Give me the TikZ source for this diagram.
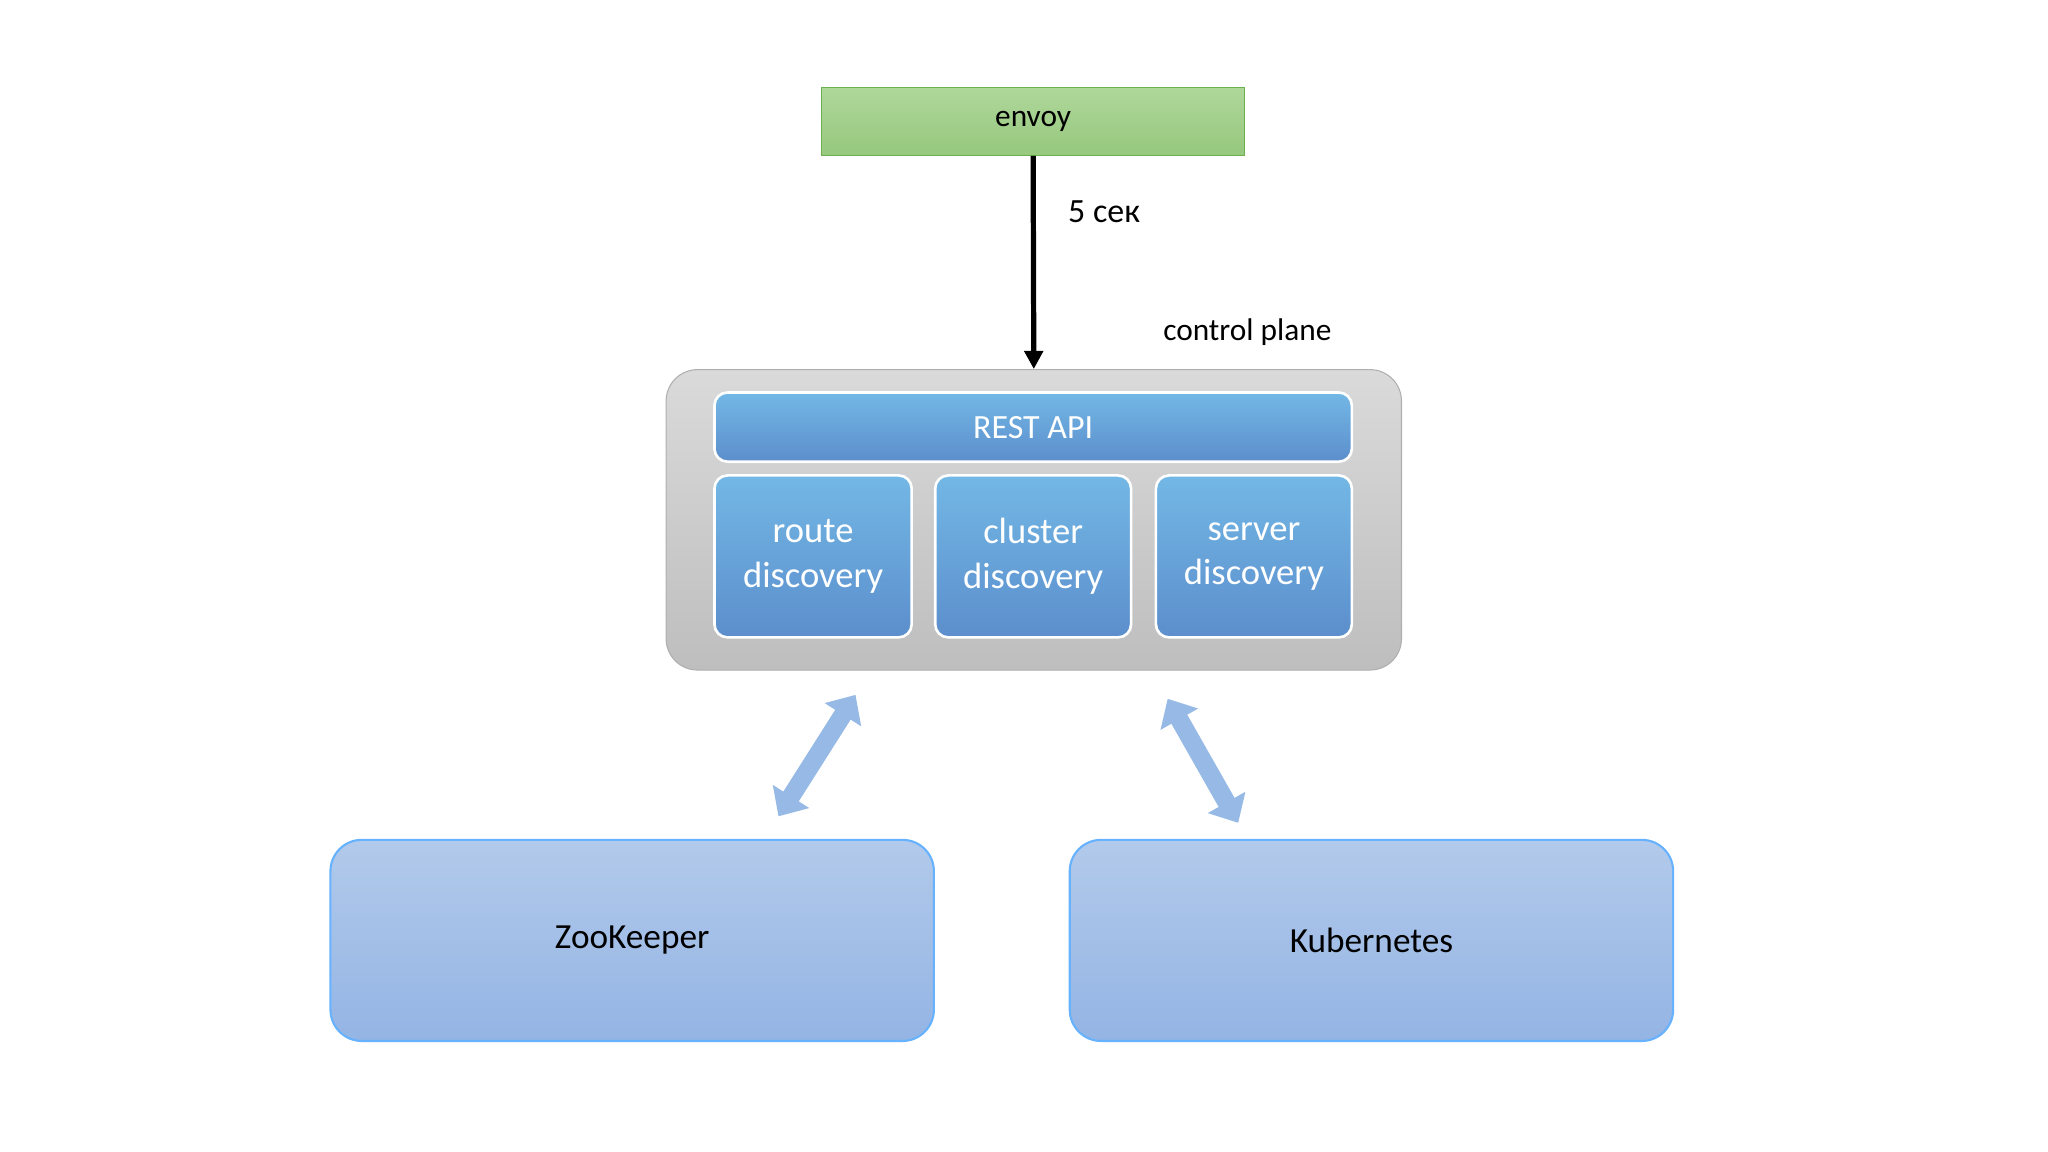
\documentclass[tikz,border=0pt]{standalone}
\usepackage{fontspec}
\setmainfont{Carlito}
\usetikzlibrary{arrows.meta}
\begin{document}
\begin{tikzpicture}[x=0.5pt,y=-0.5pt,
  blu/.style={draw=white,line width=1pt,rounded corners=5pt,top color=blue!40!cyan!50!white!90!black,bottom color=blue!55!cyan!55!white!80!black,text=white,font=\fontsize{14}{17}\selectfont,align=center,inner sep=0},
  ext/.style={draw=blue!50!cyan!60!white,line width=0.8pt,rounded corners=12pt,top color={rgb,255:red,178;green,202;blue,235},bottom color={rgb,255:red,148;green,180;blue,228},font=\fontsize{13.5}{16}\selectfont,inner sep=0},
  fat/.style={line width=7pt,draw={rgb,255:red,150;green,185;blue,230},{Triangle[width=16pt,length=9pt]}-{Triangle[width=16pt,length=9pt]}}]
\useasboundingbox (0,0) rectangle (1568,882);
\node[draw={rgb,255:red,110;green,175;blue,80},top color={rgb,255:red,175;green,215;blue,155},bottom color={rgb,255:red,150;green,200;blue,125},minimum width=162pt,minimum height=26pt,font=\fontsize{12}{14}\selectfont,inner sep=0] (envoy) at (791,93) {envoy};
\node[draw={rgb,255:red,175;green,175;blue,175},rounded corners=12pt,top color={rgb,255:red,218;green,218;blue,218},bottom color={rgb,255:red,190;green,190;blue,190},minimum width=281.5pt,minimum height=115pt,inner sep=0] (cp) at (791.5,398) {};
\node[font=\fontsize{12}{14}\selectfont,anchor=south] (cpl) at (955,272) {control plane};
\draw[line width=2pt,-{Triangle[width=7pt,length=7pt]}] (envoy.south) -- (cp.north) node[pos=0.26,right=9pt,font=\fontsize{13}{15}\selectfont] (t) {5 сек};
\node[blu,minimum width=244pt,minimum height=26.5pt,font=\fontsize{13}{15}\selectfont] (rest) at (791,327) {REST API};
\node[blu,minimum width=75.5pt,minimum height=62pt] (route) at (622.5,426) {route\\discovery};
\node[blu,minimum width=75pt,minimum height=62pt] (cluster) at (791,426) {cluster\\discovery};
\node[blu,minimum width=75pt,minimum height=62pt] (server) at (960,426) {server\\discovery};
\node[ext,minimum width=231pt,minimum height=77pt] (zk) at (484,720) {ZooKeeper};
\node[ext,minimum width=231pt,minimum height=77pt] (k8s) at (1050,720) {Kubernetes};
\coordinate (a1) at (655,532); \coordinate (a2) at (596,625);
\coordinate (b1) at (894,535); \coordinate (b2) at (948,630);
\draw[fat] (a1) -- (a2);
\draw[fat] (b1) -- (b2);
\end{tikzpicture}
\end{document}
